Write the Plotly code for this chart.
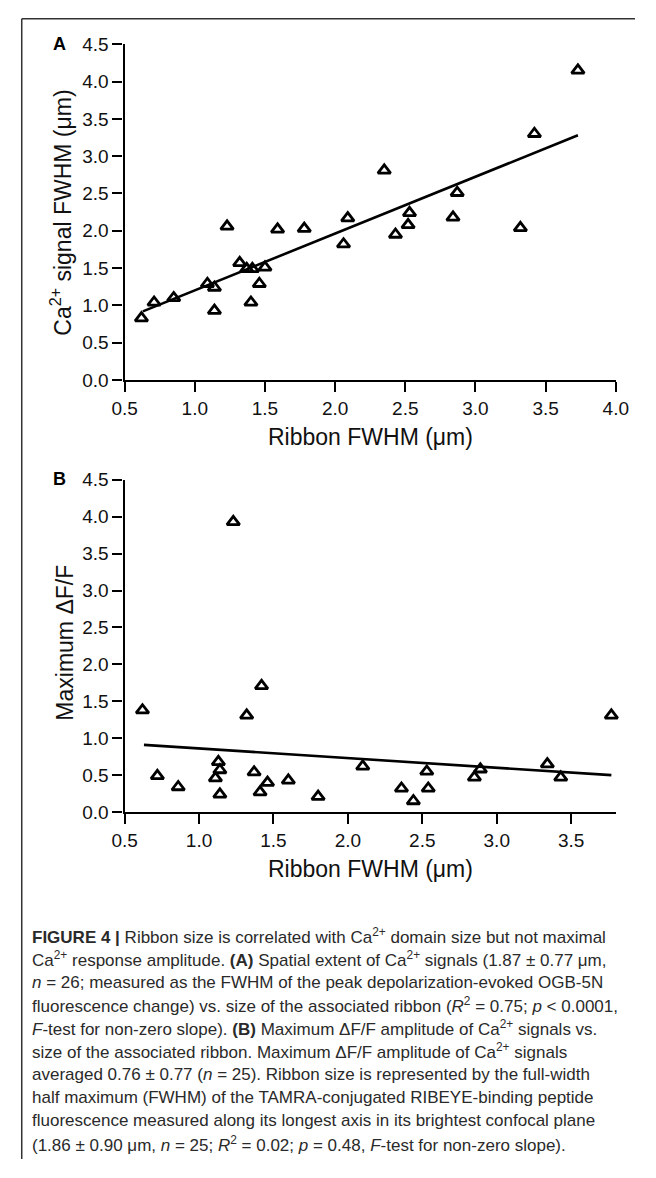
import plotly.graph_objects as go

# The page adds an 8px body margin; the figure is sized so that it fits the
# 656x1178 window without overflow, and all positions below are page pixels.
W, H = 640, 1162
OFF = 8

# ---------- data ----------
ribbon_a = [0.62, 0.71, 0.85, 1.09, 1.14, 1.14, 1.23, 1.32, 1.37, 1.41, 1.40, 1.46, 1.50,
            1.59, 1.78, 2.09, 2.06, 2.35, 2.43, 2.53, 2.52, 2.87, 2.84, 3.32, 3.42, 3.73]
ca_fwhm = [0.83, 1.04, 1.10, 1.29, 1.24, 0.93, 2.06, 1.57, 1.49, 1.49, 1.04, 1.29, 1.51,
           2.02, 2.03, 2.17, 1.82, 2.81, 1.95, 2.24, 2.08, 2.51, 2.18, 2.04, 3.30, 4.15]
fit_a_x = [0.63, 3.73]
fit_a_y = [0.92, 3.28]

ribbon_b = [0.62, 0.72, 0.86, 1.11, 1.13, 1.14, 1.14, 1.23, 1.32, 1.37, 1.41, 1.42, 1.46,
            1.60, 1.80, 2.10, 2.36, 2.44, 2.53, 2.54, 2.85, 2.89, 3.34, 3.43, 3.77]
max_dff = [1.38, 0.49, 0.34, 0.46, 0.68, 0.57, 0.24, 3.93, 1.31, 0.54, 0.27, 1.71, 0.40,
           0.43, 0.21, 0.62, 0.32, 0.15, 0.55, 0.32, 0.47, 0.58, 0.65, 0.47, 1.31]
fit_b_x = [0.63, 3.77]
fit_b_y = [0.91, 0.50]

x_ticks_a = [0.5, 1.0, 1.5, 2.0, 2.5, 3.0, 3.5, 4.0]
x_ticks_b = [0.5, 1.0, 1.5, 2.0, 2.5, 3.0, 3.5]
y_ticks = [0.0, 0.5, 1.0, 1.5, 2.0, 2.5, 3.0, 3.5, 4.0, 4.5]

caption_lines = [
    "<b>FIGURE 4 |</b> Ribbon size is correlated with Ca<sup>2+</sup> domain size but not maximal",
    "Ca<sup>2+</sup> response amplitude. <b>(A)</b> Spatial extent of Ca<sup>2+</sup> signals (1.87 ± 0.77 μm,",
    "<i>n</i> = 26; measured as the FWHM of the peak depolarization-evoked OGB-5N",
    "fluorescence change) vs. size of the associated ribbon (<i>R</i><sup>2</sup> = 0.75; <i>p</i> &lt; 0.0001,",
    "<i>F</i>-test for non-zero slope). <b>(B)</b> Maximum ΔF/F amplitude of Ca<sup>2+</sup> signals vs.",
    "size of the associated ribbon. Maximum ΔF/F amplitude of Ca<sup>2+</sup> signals",
    "averaged 0.76 ± 0.77 (<i>n</i> = 25). Ribbon size is represented by the full-width",
    "half maximum (FWHM) of the TAMRA-conjugated RIBEYE-binding peptide",
    "fluorescence measured along its longest axis in its brightest confocal plane",
    "(1.86 ± 0.90 μm, <i>n</i> = 25; <i>R</i><sup>2</sup> = 0.02; <i>p</i> = 0.48, <i>F</i>-test for non-zero slope).",
]

# ---------- helpers (page pixel -> paper fraction) ----------
def px_x(p):
    return (p - OFF) / W

def px_y(p):
    return 1 - (p - OFF) / H

AX_FONT = "Liberation Sans, Arial, sans-serif"
CAP_FONT = "Liberation Sans, Arial, sans-serif"

marker = dict(symbol="triangle-up-open", size=11, color="black", line=dict(color="black", width=2.8))
fit_line = dict(color="black", width=2.6)

fig = go.Figure()
fig.add_trace(go.Scatter(x=ribbon_a, y=ca_fwhm, mode="markers", marker=marker,
                         xaxis="x", yaxis="y", showlegend=False, cliponaxis=False))
fig.add_trace(go.Scatter(x=fit_a_x, y=fit_a_y, mode="lines", line=fit_line,
                         xaxis="x", yaxis="y", showlegend=False))
fig.add_trace(go.Scatter(x=ribbon_b, y=max_dff, mode="markers", marker=marker,
                         xaxis="x2", yaxis="y2", showlegend=False, cliponaxis=False))
fig.add_trace(go.Scatter(x=fit_b_x, y=fit_b_y, mode="lines", line=fit_line,
                         xaxis="x2", yaxis="y2", showlegend=False))

axis_common = dict(showline=True, linecolor="black", linewidth=2.4, ticks="outside",
                   ticklen=10, tickwidth=2.2, tickcolor="black", showgrid=False, zeroline=False,
                   tickfont=dict(family=AX_FONT, size=19, color="#111"), fixedrange=True)

fig.update_layout(
    width=W, height=H, margin=dict(l=0, r=0, t=0, b=0),
    paper_bgcolor="white", plot_bgcolor="white",
    xaxis=dict(domain=[px_x(116), px_x(628)], range=[0.5, 4.0], tickvals=x_ticks_a,
               ticktext=[f"{v:.1f}" for v in x_ticks_a], anchor="y", **axis_common),
    yaxis=dict(domain=[px_y(376.7), px_y(34.7)], range=[0, 4.5], tickvals=y_ticks,
               ticktext=[f"{v:.1f}" for v in y_ticks], anchor="x", **axis_common),
    xaxis2=dict(domain=[px_x(116), px_x(628)], range=[0.5, 3.80], tickvals=x_ticks_b,
                ticktext=[f"{v:.1f}" for v in x_ticks_b], anchor="y2", **axis_common),
    yaxis2=dict(domain=[px_y(816.7), px_y(478.3)], range=[0, 4.5], tickvals=y_ticks,
                ticktext=[f"{v:.1f}" for v in y_ticks], anchor="x2", **axis_common),
)

def note(text, x, y, size, angle=0, color="#111"):
    return dict(text=text, x=px_x(x), y=px_y(y), xref="paper", yref="paper",
                xanchor="center", yanchor="middle", showarrow=False, textangle=angle,
                font=dict(family=AX_FONT, size=size, color=color))

ann = [
    note("<b>A</b>", 48, 34, 18, color="black"),
    note("<b>B</b>", 48, 477, 18, color="black"),
    note("Ribbon FWHM (μm)", 372, 435, 23),
    note("Ribbon FWHM (μm)", 372, 875, 23),
    note("Ca<sup>2+</sup> signal FWHM (μm)", 50, 206, 23, angle=-90),
    note("Maximum ΔF/F", 53, 644, 23, angle=-90),
]
for i, line in enumerate(caption_lines):
    ann.append(dict(text=line, x=px_x(17), y=px_y(943 + 23.5 * i), xref="paper", yref="paper",
                    xanchor="left", yanchor="middle", showarrow=False, align="left",
                    font=dict(family=CAP_FONT, size=17, color="#2a2a2a")))
fig.update_layout(annotations=ann)

# frame lines (top and left)
fig.add_shape(type="line", xref="paper", yref="paper", x0=0.0012, x1=1.0, y0=0.9994, y1=0.9994,
              line=dict(color="#333", width=1.5))
fig.add_shape(type="line", xref="paper", yref="paper", x0=0.0012, x1=0.0012, y0=0.9994, y1=0,
              line=dict(color="#333", width=1.5))

fig.write_html("out.html")
